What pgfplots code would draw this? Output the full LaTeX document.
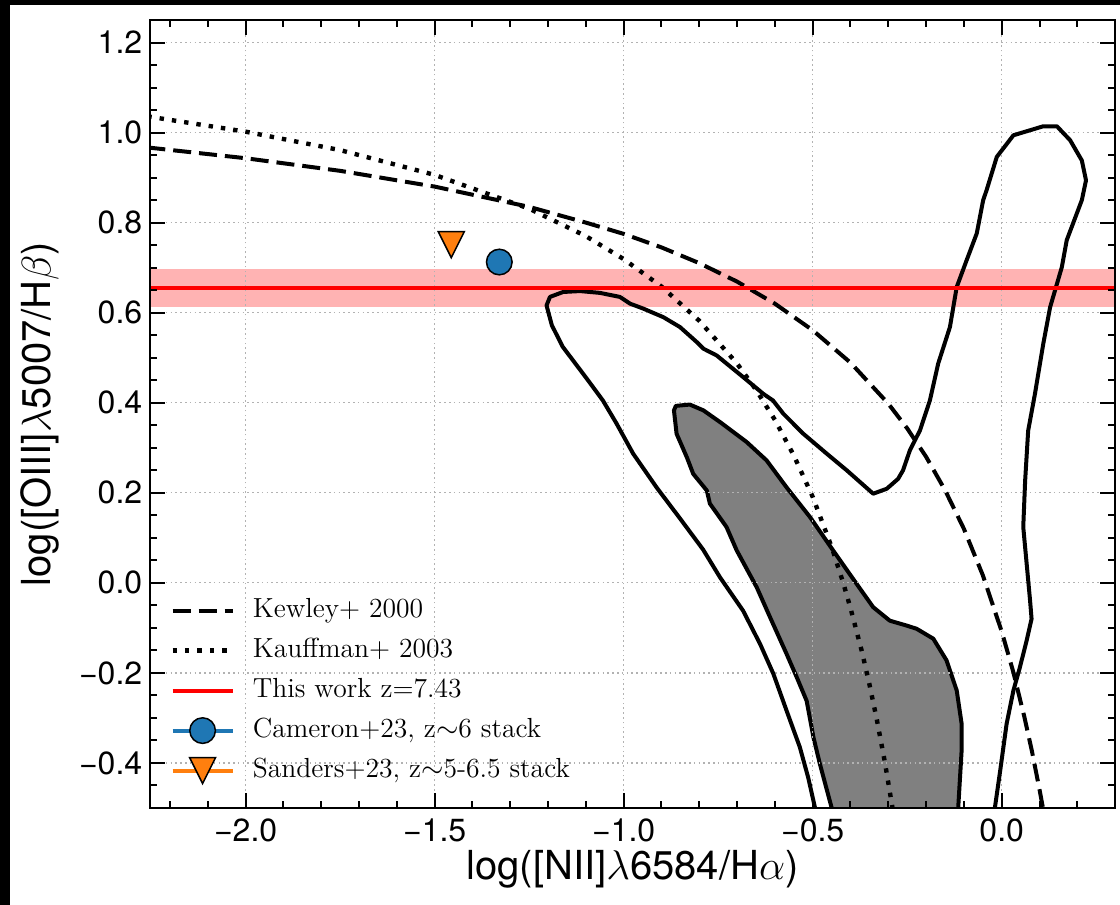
\documentclass[border=0pt]{standalone}
\usepackage{fontspec}
\usepackage{pgfplots}
\pgfplotsset{compat=1.18}
\newfontfamily\heros{TeX Gyre Heros}
\definecolor{tabblue}{RGB}{31,119,180}
\definecolor{taborange}{RGB}{255,127,14}
\definecolor{bandred}{RGB}{255,179,179}
\definecolor{gridgray}{RGB}{178,178,178}
\pgfdeclareplotmark{tridown}{%
  \pgfpathmoveto{\pgfqpoint{0pt}{-\pgfplotmarksize}}%
  \pgfpathlineto{\pgfqpoint{-\pgfplotmarksize}{\pgfplotmarksize}}%
  \pgfpathlineto{\pgfqpoint{\pgfplotmarksize}{\pgfplotmarksize}}%
  \pgfpathclose
  \pgfusepathqfillstroke}
\begin{document}
\begin{tikzpicture}
\fill[black] (-75pt,-48.5pt) rectangle (485pt,404pt);
\fill[white] (-70pt,-48.5pt) rectangle (485pt,401.5pt);
\useasboundingbox (-75pt,-48.5pt) rectangle (485pt,404pt);
\begin{axis}[
  at={(0pt,0pt)}, anchor=south west,
  scale only axis, width=482.5pt, height=394pt,
  xmin=-2.253, xmax=0.2997, ymin=-0.5, ymax=1.25,
  axis on top,
  axis line style={line width=1.2pt},
  tick align=inside, xtick pos=both, ytick pos=both,
  major tick length=7.5pt, minor tick length=3.7pt,
  every tick/.style={black, line width=1pt},
  xtick={-2,-1.5,-1,-0.5,0},
  xticklabels={−2.0,−1.5,−1.0,−0.5,0.0},
  minor xtick={-2.2,-2.1,-1.9,-1.8,-1.7,-1.6,-1.4,-1.3,-1.2,-1.1,-0.9,-0.8,-0.7,-0.6,-0.4,-0.3,-0.2,-0.1,0.1,0.2},
  ytick={-0.4,-0.2,0,0.2,0.4,0.6,0.8,1.0,1.2},
  yticklabels={−0.4,−0.2,0.0,0.2,0.4,0.6,0.8,1.0,1.2},
  minor ytick={-0.45,-0.35,-0.3,-0.25,-0.15,-0.1,-0.05,0.05,0.1,0.15,0.25,0.3,0.35,0.45,0.5,0.55,0.65,0.7,0.75,0.85,0.9,0.95,1.05,1.1,1.15},
  tick label style={font=\heros\fontsize{16}{19}\selectfont},
  yticklabel style={inner xsep=3.7pt},
  xticklabel style={inner ysep=5pt},
  every axis x label/.style={at={(axis description cs:0.5,-0.0774)}, anchor=center},
  every axis y label/.style={at={(axis description cs:-0.114,0.5)}, rotate=90, anchor=center},
  label style={font=\heros\fontsize{20}{24}\selectfont},
  xlabel={log([NII]$\lambda$6584/H$\alpha$)},
  ylabel={log([OIII]$\lambda$5007/H$\beta$)},
  legend cell align=left,
  legend image code/.code={\draw[#1] (0pt,0pt) -- (30pt,0pt);},
  legend style={draw=none, fill=none, at={(0,0)}, anchor=south west,
    inner xsep=10pt, inner ysep=10pt, row sep=3pt,
    font=\fontsize{13.8}{16}\selectfont,
    nodes={text height=10pt, text depth=3pt, inner sep=2pt}},
  /tikz/every even column/.append style={column sep=0pt},
  /tikz/every odd column/.append style={column sep=7pt},
]
% pink band
\addplot[draw=none, fill=bandred, forget plot] coordinates {(-2.5,0.612) (0.5,0.612) (0.5,0.698) (-2.5,0.698)};
% inner (filled) contour
\addplot[fill=gray, draw=black, line width=2pt, line join=round, forget plot] coordinates {
(-0.446,-0.517) (-0.450,-0.499) (-0.481,-0.402) (-0.498,-0.343) (-0.516,-0.262) (-0.542,-0.210)
(-0.569,-0.158) (-0.613,-0.076) (-0.648,-0.010) (-0.701,0.072) (-0.728,0.124) (-0.772,0.176)
(-0.780,0.205) (-0.816,0.242) (-0.833,0.279) (-0.860,0.331) (-0.867,0.383) (-0.862,0.393)
(-0.825,0.396) (-0.789,0.383) (-0.745,0.357) (-0.675,0.313) (-0.622,0.272) (-0.569,0.212)
(-0.507,0.146) (-0.446,0.072) (-0.384,-0.002) (-0.340,-0.054) (-0.296,-0.084) (-0.251,-0.095)
(-0.225,-0.102) (-0.181,-0.124) (-0.146,-0.172) (-0.119,-0.239) (-0.106,-0.313) (-0.106,-0.372)
(-0.115,-0.499) (-0.116,-0.517) (-0.116,-0.6) (-0.446,-0.6)} -- cycle;
% grid
\addplot[gridgray, line width=0.6pt, dash pattern=on 0.8pt off 1.6pt, unbounded coords=jump, forget plot] coordinates {
(-2,-0.6) (-2,1.3) (nan,nan) (-1.5,-0.6) (-1.5,1.3) (nan,nan) (-1,-0.6) (-1,1.3) (nan,nan)
(-0.5,-0.6) (-0.5,1.3) (nan,nan) (0,-0.6) (0,1.3)};
\addplot[gridgray, line width=0.6pt, dash pattern=on 0.8pt off 1.6pt, unbounded coords=jump, forget plot] coordinates {
(-2.3,-0.4) (0.4,-0.4) (nan,nan) (-2.3,-0.2) (0.4,-0.2) (nan,nan) (-2.3,0) (0.4,0) (nan,nan)
(-2.3,0.2) (0.4,0.2) (nan,nan) (-2.3,0.4) (0.4,0.4) (nan,nan) (-2.3,0.6) (0.4,0.6) (nan,nan)
(-2.3,0.8) (0.4,0.8) (nan,nan) (-2.3,1.0) (0.4,1.0) (nan,nan) (-2.3,1.2) (0.4,1.2)};
% outer contour
\addplot[black, line width=2pt, line join=round, forget plot] coordinates {
(-0.490,-0.520) (-0.494,-0.499) (-0.512,-0.432) (-0.534,-0.365) (-0.569,-0.284) (-0.604,-0.202)
(-0.639,-0.136) (-0.684,-0.062) (-0.745,0.012) (-0.790,0.074) (-0.851,0.143) (-0.913,0.212)
(-0.975,0.287) (-1.019,0.354) (-1.055,0.405) (-1.098,0.454) (-1.161,0.524) (-1.190,0.572)
(-1.204,0.616) (-1.195,0.635) (-1.160,0.646) (-1.116,0.648) (-1.063,0.644) (-1.010,0.635)
(-0.983,0.620) (-0.948,0.609) (-0.895,0.590) (-0.851,0.568) (-0.807,0.535) (-0.789,0.520)
(-0.754,0.505) (-0.684,0.457) (-0.631,0.420) (-0.605,0.405) (-0.578,0.376) (-0.526,0.332)
(-0.463,0.287) (-0.410,0.250) (-0.340,0.198) (-0.304,0.209) (-0.274,0.231) (-0.261,0.250)
(-0.243,0.294) (-0.216,0.339) (-0.190,0.405) (-0.168,0.487) (-0.137,0.568) (-0.119,0.657)
(-0.093,0.716) (-0.066,0.776) (-0.049,0.850) (-0.040,0.872) (-0.013,0.946) (0.031,0.994)
(0.110,1.014) (0.146,1.014) (0.181,0.983) (0.212,0.938) (0.223,0.894) (0.212,0.850)
(0.172,0.761) (0.159,0.701) (0.128,0.612) (0.110,0.531) (0.088,0.420) (0.070,0.338)
(0.062,0.227) (0.057,0.124) (0.075,-0.039) (0.079,-0.080) (0.066,-0.128) (0.048,-0.188)
(0.031,-0.239) (0.013,-0.313) (-0.004,-0.417) (-0.018,-0.499) (-0.023,-0.517)};
% Kewley+ 2000
\addplot[black, line width=2pt, dash pattern=on 9pt off 4pt] coordinates {
(-2.26,0.967) (-2.0,0.943) (-1.75,0.915) (-1.5,0.880) (-1.25,0.835) (-1.1,0.800) (-1.0,0.775)
(-0.9,0.745) (-0.8,0.710) (-0.7,0.669) (-0.6,0.620) (-0.5,0.561) (-0.4,0.489) (-0.3,0.398)
(-0.25,0.343) (-0.2,0.280) (-0.15,0.206) (-0.1,0.120) (-0.05,0.017) (0.0,-0.108) (0.03,-0.196)
(0.06,-0.298) (0.08,-0.374) (0.10,-0.459) (0.11,-0.504)};
\addlegendentry{Kewley+ 2000}
% Kauffman+ 2003
\addplot[black, line width=2.2pt, dash pattern=on 2.2pt off 4pt] coordinates {
(-2.26,1.036) (-2.0,1.002) (-1.75,0.961) (-1.5,0.906) (-1.25,0.831) (-1.1,0.770) (-1.0,0.719)
(-0.9,0.658) (-0.8,0.582) (-0.7,0.487) (-0.65,0.429) (-0.6,0.362) (-0.55,0.283) (-0.5,0.191)
(-0.45,0.080) (-0.42,0.002) (-0.4,-0.056) (-0.37,-0.152) (-0.35,-0.225) (-0.33,-0.305)
(-0.31,-0.394) (-0.29,-0.494) (-0.285,-0.521)};
\addlegendentry{Kauffman+ 2003}
% this work
\addplot[red, line width=2pt] coordinates {(-2.5,0.655) (0.5,0.655)};
\addlegendentry{This work z=7.43}
% Cameron
\addplot[only marks, mark=*, mark size=6.4pt, mark options={fill=tabblue, draw=black, line width=0.75pt},
  legend image code/.code={\draw[tabblue, line width=2pt] (0pt,0pt) -- (30pt,0pt);
  \path[mark=*, mark size=6.4pt, mark options={fill=tabblue, draw=black, line width=0.75pt}] plot coordinates {(15pt,0pt)};}]
  coordinates {(-1.329,0.7125)};
\addlegendentry{Cameron+23, z$\sim$6 stack}
% Sanders
\addplot[only marks, mark=tridown, mark size=6.5pt, mark options={fill=taborange, draw=black, line width=0.75pt},
  legend image code/.code={\draw[taborange, line width=2pt] (0pt,0pt) -- (30pt,0pt);
  \path[mark=tridown, mark size=6.5pt, mark options={fill=taborange, draw=black, line width=0.75pt}] plot coordinates {(15pt,0pt)};}]
  coordinates {(-1.456,0.751)};
\addlegendentry{Sanders+23, z$\sim$5-6.5 stack}
\end{axis}
\end{tikzpicture}
\end{document}
